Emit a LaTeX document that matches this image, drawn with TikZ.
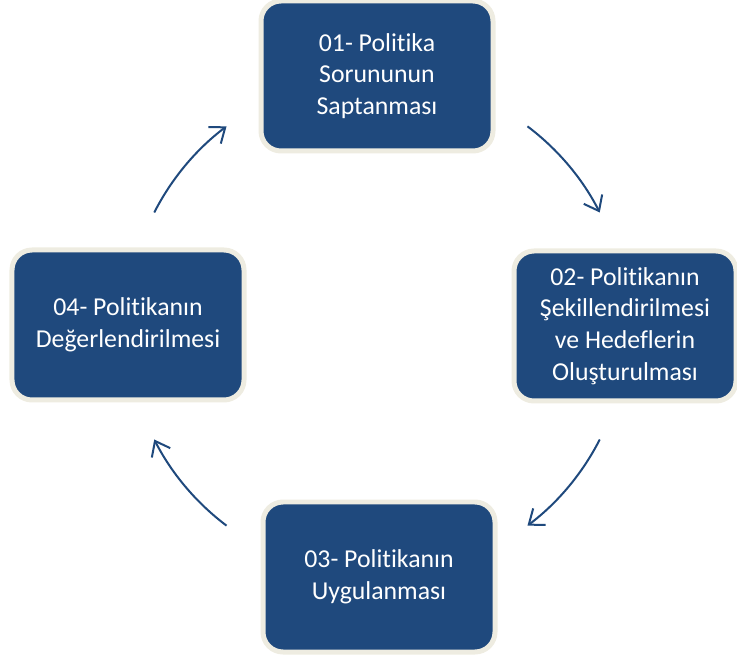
\documentclass[tikz,border=0pt]{standalone}
\usepackage{fontspec}
\setmainfont{Carlito}[Ligatures=NoCommon]
\usepackage{tikz}
\usetikzlibrary{arrows.meta}
\usetikzlibrary{calc}

\definecolor{stepblue}{RGB}{31,73,125}
\definecolor{stepedge}{RGB}{238,236,225}

\tikzset{
  stepbox/.style={draw=stepedge, fill=stepblue, line width=0.15cm,
    rounded corners=0.6cm, minimum width=6.96cm, minimum height=4.5cm,
    inner sep=0cm, align=center, text=white,
    font=\fontsize{22}{27}\selectfont},
  cyclearrow/.style={draw=stepblue, line width=0.06cm,
    -{Straight Barb[length=0.4cm,width=0.62cm,line width=0.06cm]}}
}

\begin{document}
\begin{tikzpicture}
\useasboundingbox (0,0) rectangle (22.11,19.71);

\coordinate (c) at (11.31,9.93);

\draw (11.31,17.43) node[stepbox] (s1) {01- Politika\\Sorununun\\Saptanması};
\draw (18.75,9.93) node[stepbox, minimum width=6.66cm] (s2) {02- Politikanın\\Şekillendirilmesi\\ve Hedeflerin\\Oluşturulması};
\draw (11.37,2.40) node[stepbox] (s3) {03- Politikanın\\Uygulanması};
\draw (3.84,9.96) node[stepbox] (s4) {04- Politikanın\\Değerlendirilmesi};

\coordinate (a1) at ($(c)+(53:7.5)$);
\coordinate (a2) at ($(c)+(-27:7.5)$);
\coordinate (a3) at ($(c)+(233:7.5)$);
\coordinate (a4) at ($(c)+(153:7.5)$);
\draw[cyclearrow] (a1) arc[start angle=53, end angle=27, radius=7.5];
\draw[cyclearrow] (a2) arc[start angle=-27, end angle=-53, radius=7.5];
\draw[cyclearrow] (a3) arc[start angle=233, end angle=207, radius=7.5];
\draw[cyclearrow] (a4) arc[start angle=153, end angle=127, radius=7.5];
\end{tikzpicture}
\end{document}
